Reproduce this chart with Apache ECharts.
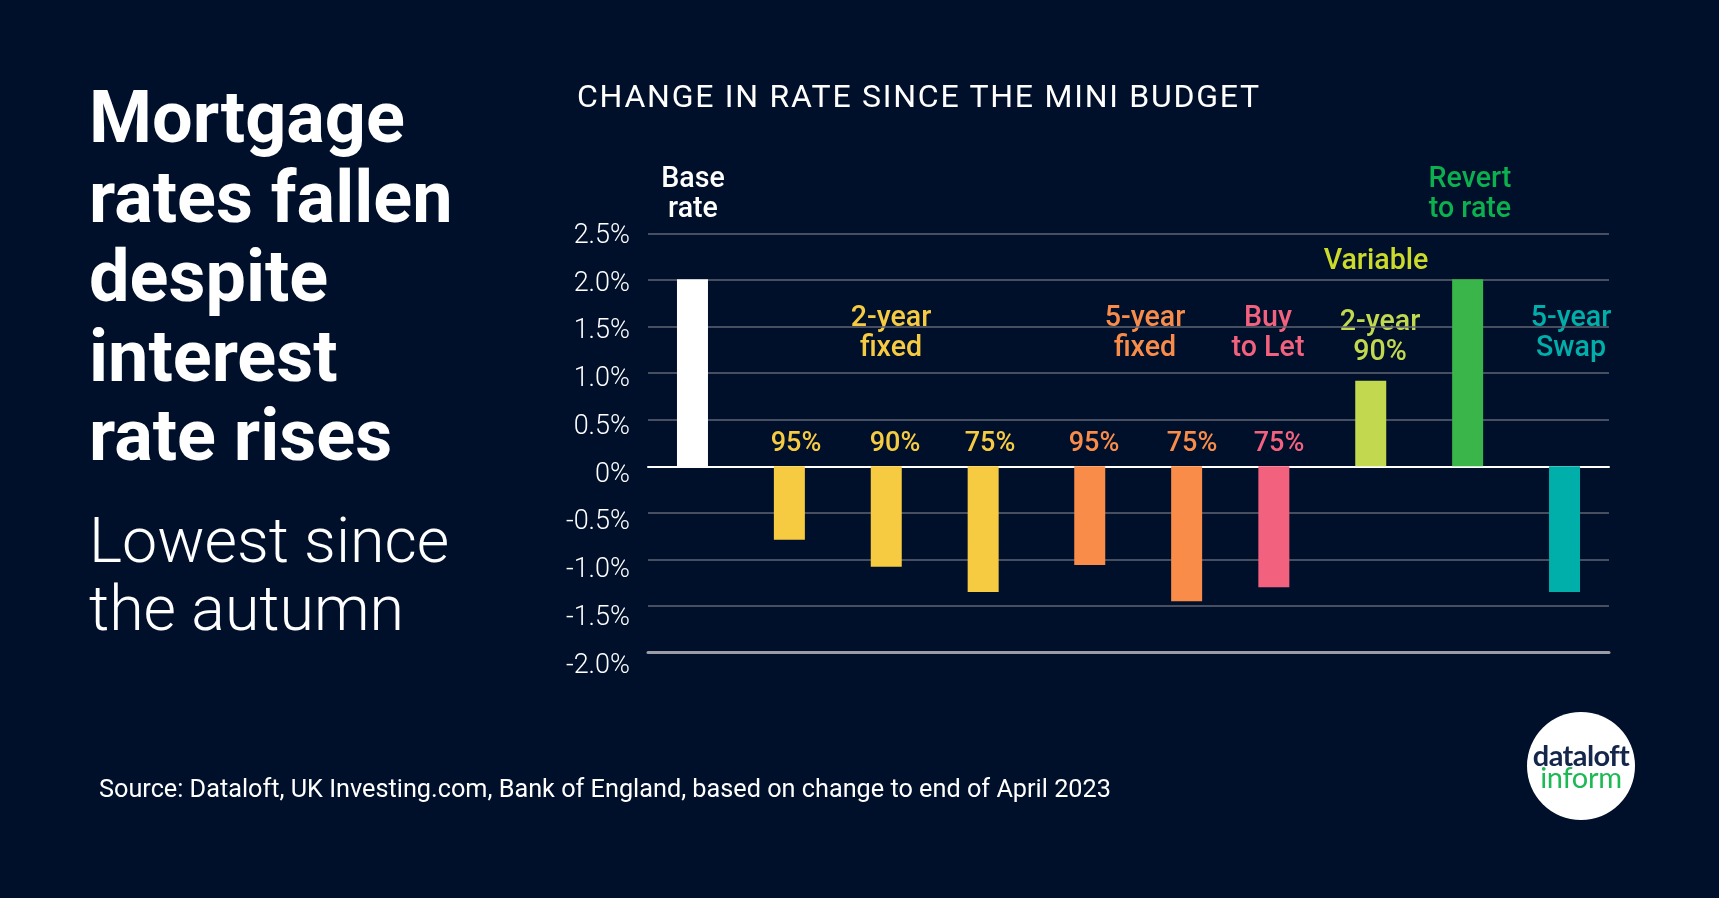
<!DOCTYPE html>
<html>
<head>
<meta charset="utf-8">
<script src="https://cdn.jsdelivr.net/npm/echarts@6/dist/echarts.min.js"></script>
<style>
    * { margin: 0; padding: 0; }
    html, body { width: 1719px; height: 898px; background: #00102b; overflow: hidden; font-family: Roboto, sans-serif; }
    #container { position: absolute; left: 0; top: 0; width: 1719px; height: 898px; }
    .txt { position: absolute; color: #fff; white-space: nowrap; }
    #headline { left: 89px; top: 78px; font-size: 72px; font-weight: 700; line-height: 79.6px; }
    #subline { left: 89px; top: 507px; font-size: 62.7px; font-weight: 300; line-height: 67.5px; }
    #charttitle { left: 577px; top: 76px; font-size: 32px; font-weight: 400; letter-spacing: 1.75px; line-height: 40px; }
    #source { left: 99px; top: 774px; font-size: 25.25px; font-weight: 400; line-height: 30px; }
    #logo { position: absolute; left: 1527px; top: 712px; width: 108px; height: 108px; border-radius: 50%; background: #fff; text-align: center; font-family: Lato, sans-serif; font-weight: 700; }
    #logo div { position: absolute; left: 0; width: 108px; }
    #logo .a { top: 28px; font-size: 29px; line-height: 30px; color: #14264a; letter-spacing: -0.6px; }
    #logo .b { top: 50px; font-size: 29px; line-height: 30px; color: #1db954; font-weight: 400; letter-spacing: -0.3px; }
</style>
</head>
<body>
<div id="container"></div>
<div class="txt" id="headline">Mortgage<br>rates fallen<br>despite<br>interest<br>rate rises</div>
<div class="txt" id="subline">Lowest since<br>the autumn</div>
<div class="txt" id="charttitle">CHANGE IN RATE SINCE THE MINI BUDGET</div>
<div class="txt" id="source">Source: Dataloft, UK Investing.com, Bank of England, based on change to end of April 2023</div>
<div id="logo"><div class="a">dataloft</div><div class="b">inform</div></div>

<script type="text/javascript">
    //bar values, % change, left to right
    var rateNames = ['Base rate', '2-year fixed 95%', '2-year fixed 90%', '2-year fixed 75%', '5-year fixed 95%',
        '5-year fixed 75%', 'Buy to Let 75%', 'Variable 2-year 90%', 'Revert to rate', '5-year Swap'];
    var rateChange = [2.01, -0.79, -1.08, -1.35, -1.06, -1.45, -1.3, 0.92, 2.01, -1.35];
    //the 5-year fixed pair sits a little apart from its neighbours
    var rateSlots = [0, 1, 2, 3, 4.1, 5.1, 6, 7, 8, 9];
    var barColors = ['#ffffff', '#f7cb41', '#f7cb41', '#f7cb41', '#f98c49', '#f98c49', '#f2617e', '#c2d94f', '#39b54a', '#00afa9'];
    var yTickLabels = ['-2.0%', '-1.5%', '-1.0%', '-0.5%', '0%', '0.5%', '1.0%', '1.5%', '2.0%', '2.5%'];

    //text over the bars
    var notes = [
        {text: 'Base\nrate', x: 693, y: 193, color: '#ffffff', size: 28.6},
        {text: '95%', x: 796, y: 442, color: '#f7cb41', size: 27},
        {text: '90%', x: 895, y: 442, color: '#f7cb41', size: 27},
        {text: '75%', x: 990, y: 442, color: '#f7cb41', size: 27},
        {text: '95%', x: 1094, y: 442, color: '#f98c49', size: 27},
        {text: '75%', x: 1192, y: 442, color: '#f98c49', size: 27},
        {text: '75%', x: 1279, y: 442, color: '#f2617e', size: 27},
        {text: '2-year\nfixed', x: 891, y: 332, color: '#f7cb41', size: 28.6},
        {text: '5-year\nfixed', x: 1145, y: 332, color: '#f98c49', size: 28.6},
        {text: 'Buy\nto Let', x: 1268, y: 332, color: '#f2617e', size: 28.6},
        {text: 'Variable', x: 1376, y: 260, color: '#ccdb29', size: 28.6},
        {text: '2-year\n90%', x: 1380, y: 336, color: '#c2d94f', size: 28.6},
        {text: 'Revert\nto rate', x: 1470, y: 193, color: '#0cb04e', size: 28.6},
        {text: '5-year\nSwap', x: 1571, y: 332, color: '#00afaa', size: 28.6}
    ];

    var myChart = echarts.init(document.getElementById('container'));
    var slotMin = -0.459, slotMax = 9.459;

    var barData = rateChange.map(function (v, i) {
        return {name: rateNames[i], value: [rateSlots[i], v], itemStyle: {color: barColors[i]}};
    });

    myChart.setOption({
        backgroundColor: 'transparent',
        animation: false,
        grid: [
            {left: 648, right: 110, top: 233.6, height: 418.8},
            //second grid only carries the tick labels, they run slightly wider than the lines
            {left: 648, right: 110, top: 236, height: 430}
        ],
        xAxis: [
            {//zero line
                type: 'value', gridIndex: 0, min: slotMin, max: slotMax,
                axisLine: {show: true, onZero: true, lineStyle: {color: '#ffffff', width: 2}},
                axisTick: {show: false}, axisLabel: {show: false}, splitLine: {show: false}
            },
            {//bottom line
                type: 'value', gridIndex: 0, min: slotMin, max: slotMax, position: 'bottom',
                axisLine: {show: true, onZero: false, lineStyle: {color: '#9b9ca6', width: 3}},
                axisTick: {show: false}, axisLabel: {show: false}, splitLine: {show: false}
            },
            {type: 'value', gridIndex: 1, min: 0, max: 1, show: false}
        ],
        yAxis: [
            {
                type: 'value', gridIndex: 0, min: -2, max: 2.5, interval: 0.5,
                axisLine: {show: false}, axisTick: {show: false}, axisLabel: {show: false},
                splitLine: {show: true, lineStyle: {color: '#5f6372', width: 1.5}}
            },
            {
                type: 'value', gridIndex: 1, min: -2, max: 2.5, interval: 0.5,
                axisLine: {show: false}, axisTick: {show: false}, splitLine: {show: false},
                axisLabel: {
                    margin: 18, color: '#ffffff', fontFamily: 'Roboto', fontWeight: 300, fontSize: 27,
                    formatter: function (v, i) { return yTickLabels[i]; }
                }
            }
        ],
        series: [{
            type: 'bar',
            xAxisIndex: 0,
            yAxisIndex: 0,
            barWidth: 31,
            data: barData
        }],
        graphic: notes.map(function (n) {
            return {
                type: 'text', x: n.x, y: n.y + 2, silent: true,
                style: {
                    text: n.text, fill: n.color, align: 'center', verticalAlign: 'middle',
                    font: '500 ' + n.size + 'px Roboto', lineHeight: 29.5
                }
            };
        })
    });
</script>
</body>
</html>
